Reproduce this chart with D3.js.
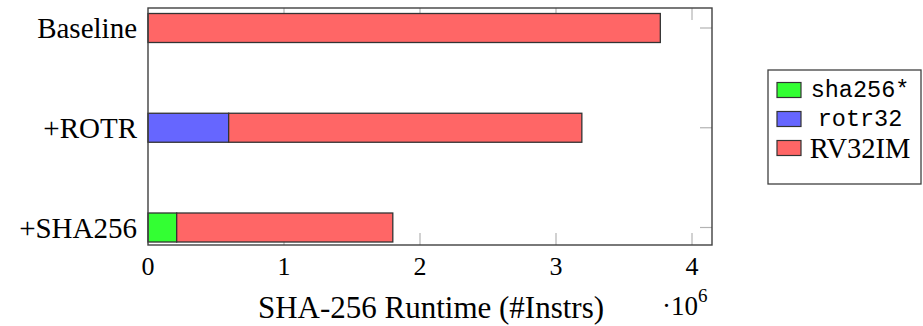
<!DOCTYPE html>
<html>
<head>
<meta charset="utf-8">
<script src="https://d3js.org/d3.v7.min.js"></script>
</head>
<body style="margin:0">
<svg id="chart" width="923" height="326" font-family="Liberation Serif"></svg>
<script>
// data (instruction counts)
var categories = ["Baseline", "+ROTR", "+SHA256"];
var sha256 = [0, 0, 0.211e6];
var rotr32 = [0, 0.593e6, 0];
var rv32im = [3.767e6, 2.597e6, 1.589e6];
var seriesNames = ["sha256*", "rotr32", "RV32IM"];
var xTicks = [0, 1e6, 2e6, 3e6, 4e6];

var colors = { "sha256*": "#33ff33", "rotr32": "#6666ff", "RV32IM": "#ff6666" };

var plotL = 148, plotR = 712, plotT = 8, plotB = 245;

var svg = d3.select("#chart");

var x = d3.scaleLinear().domain([0, 4.147e6]).range([plotL, plotR]);
var y = d3.scalePoint().domain(categories).range([28, 227.5]);
var barH = 29;

// build table for stacking
var table = categories.map(function(c, i) {
  return { cat: c, "sha256*": sha256[i], "rotr32": rotr32[i], "RV32IM": rv32im[i] };
});
var stacked = d3.stack().keys(seriesNames)(table);

// ticks (grey, inward) on all four sides
var tickLen = 12;
var ticks = svg.append("g").attr("stroke", "#b3b3b3").attr("stroke-width", 1.2);
xTicks.slice(1).forEach(function(t) {
  ticks.append("line").attr("x1", x(t)).attr("x2", x(t)).attr("y1", plotT).attr("y2", plotT + tickLen);
  ticks.append("line").attr("x1", x(t)).attr("x2", x(t)).attr("y1", plotB).attr("y2", plotB - tickLen);
});
categories.forEach(function(c) {
  ticks.append("line").attr("x1", plotR).attr("x2", plotR - tickLen).attr("y1", y(c)).attr("y2", y(c));
  ticks.append("line").attr("x1", plotL).attr("x2", plotL + tickLen).attr("y1", y(c)).attr("y2", y(c));
});

// bars
svg.append("g").selectAll("g")
  .data(stacked)
  .enter().append("g")
  .attr("fill", function(d) { return colors[d.key]; })
  .selectAll("rect")
  .data(function(d) { return d.filter(function(v) { return v[1] - v[0] > 0; }); })
  .enter().append("rect")
  .attr("x", function(d) { return x(d[0]); })
  .attr("width", function(d) { return x(d[1]) - x(d[0]); })
  .attr("y", function(d) { return y(d.data.cat) - barH / 2; })
  .attr("height", barH)
  .attr("stroke", "#333")
  .attr("stroke-width", 1.3);

// frame
svg.append("rect")
  .attr("x", plotL).attr("y", plotT)
  .attr("width", plotR - plotL).attr("height", plotB - plotT)
  .attr("fill", "none").attr("stroke", "#404040").attr("stroke-width", 1.4);

// x tick labels
svg.append("g").selectAll("text")
  .data(xTicks)
  .enter().append("text")
  .attr("x", function(d) { return x(d); })
  .attr("y", 275)
  .attr("text-anchor", "middle")
  .attr("font-size", 26)
  .text(function(d) { return d / 1e6; });

// y labels
svg.append("g").selectAll("text")
  .data(categories)
  .enter().append("text")
  .attr("x", 137)
  .attr("y", function(d) { return y(d) + 10; })
  .attr("text-anchor", "end")
  .attr("font-size", 29)
  .text(function(d) { return d; });

// axis label
svg.append("text")
  .attr("x", 431)
  .attr("y", 318)
  .attr("text-anchor", "middle")
  .attr("font-size", 31)
  .text("SHA-256 Runtime (#Instrs)");

// scale factor
var sc = svg.append("text").attr("x", 662).attr("y", 315).attr("font-size", 27);
sc.append("tspan").text("\u00b710");
sc.append("tspan").attr("dy", -13).attr("font-size", 19).text("6");

// legend
var lg = svg.append("g");
lg.append("rect")
  .attr("x", 768).attr("y", 70).attr("width", 153).attr("height", 114)
  .attr("fill", "#fff").attr("stroke", "#404040").attr("stroke-width", 1.3);
var rows = lg.selectAll("g.row")
  .data(seriesNames)
  .enter().append("g")
  .attr("class", "row")
  .attr("transform", function(d, i) { return "translate(0," + (90 + i * 29) + ")"; });
rows.append("rect")
  .attr("x", 777).attr("y", -7.5).attr("width", 24).attr("height", 15)
  .attr("fill", function(d) { return colors[d]; })
  .attr("stroke", "#333").attr("stroke-width", 1.2);
rows.append("text")
  .attr("x", 860)
  .attr("y", function(d) { return d === "RV32IM" ? 9.5 : 7; })
  .attr("text-anchor", "middle")
  .attr("font-family", function(d) { return d === "RV32IM" ? "Liberation Serif" : "Liberation Mono"; })
  .attr("font-size", function(d) { return d === "RV32IM" ? 28.5 : 23.5; })
  .text(function(d) { return d; });
</script>
</body>
</html>
